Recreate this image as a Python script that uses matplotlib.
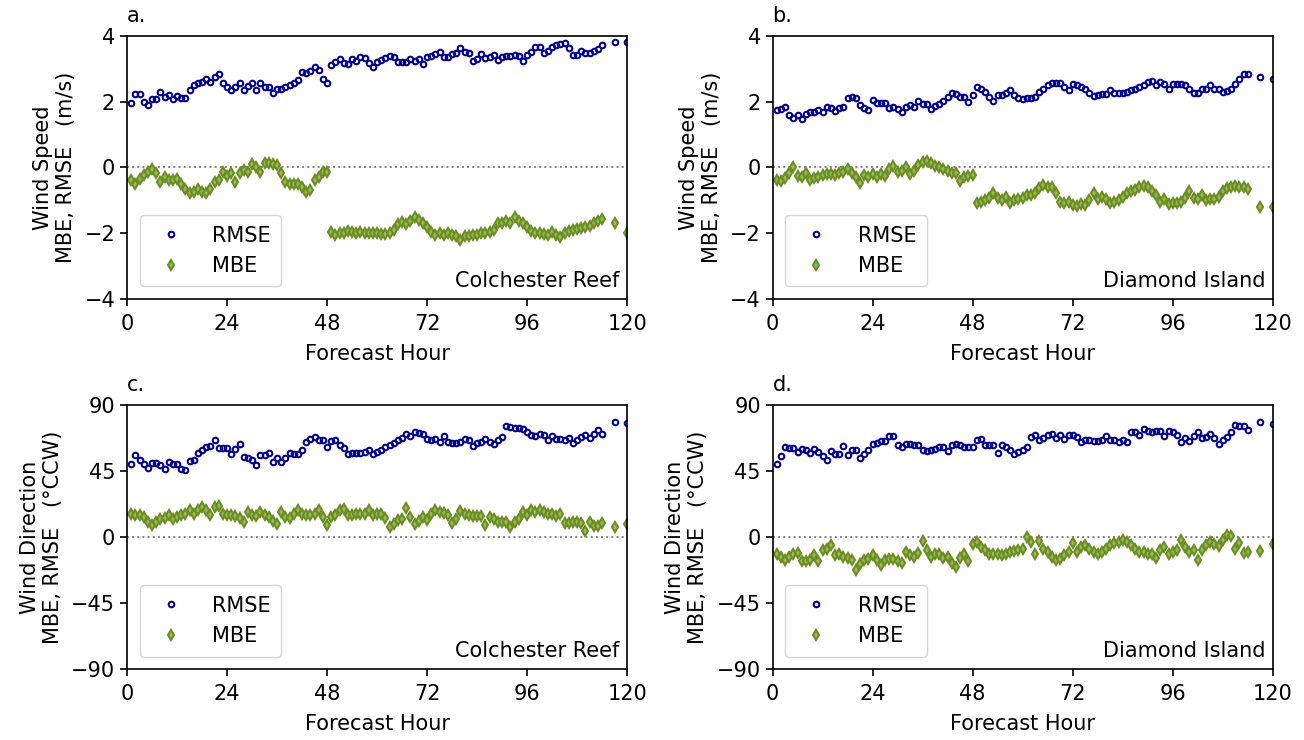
import numpy as np
import matplotlib.pyplot as plt

# forecast hours: hourly 1-114, then 3-hourly
hours = list(range(1, 115)) + [117, 120]

# wind speed (m/s)
rmse_a = [1.97, 2.23, 2.23, 2.0, 1.9, 2.07, 2.07, 2.3, 2.15, 2.2, 2.08, 2.17,
          2.1, 2.1, 2.35, 2.5, 2.56, 2.6, 2.68, 2.6, 2.76, 2.84, 2.58, 2.46,
          2.35, 2.44, 2.56, 2.35, 2.48, 2.56, 2.35, 2.56, 2.44, 2.44, 2.25, 2.38,
          2.38, 2.44, 2.5, 2.58, 2.66, 2.91, 2.86, 2.94, 3.05, 2.96, 2.68, 2.58,
          3.12, 3.22, 3.29, 3.17, 3.15, 3.29, 3.25, 3.37, 3.32, 3.17, 3.05, 3.2,
          3.27, 3.32, 3.39, 3.37, 3.22, 3.22, 3.22, 3.29, 3.25, 3.29, 3.15, 3.37,
          3.39, 3.45, 3.52, 3.37, 3.35, 3.45, 3.49, 3.62, 3.52, 3.47, 3.25, 3.29,
          3.45, 3.32, 3.37, 3.42, 3.27, 3.35, 3.39, 3.39, 3.42, 3.39, 3.25, 3.42,
          3.52, 3.65, 3.67, 3.49, 3.55, 3.67, 3.73, 3.76, 3.78, 3.62, 3.42, 3.42,
          3.55, 3.47, 3.49, 3.55, 3.59, 3.73, 3.83, 3.83]
mbe_a = [-0.37, -0.51, -0.34, -0.23, -0.13, -0.06, -0.16, -0.44, -0.28, -0.37, -0.39, -0.34,
         -0.51, -0.64, -0.79, -0.74, -0.64, -0.74, -0.79, -0.67, -0.44, -0.37, -0.13, -0.26,
         -0.18, -0.44, -0.18, -0.08, -0.13, 0.12, 0.02, -0.13, 0.14, 0.14, 0.12, 0.07,
         -0.18, -0.44, -0.49, -0.51, -0.49, -0.59, -0.74, -0.69, -0.39, -0.28, -0.13, -0.13,
         -1.95, -2.05, -1.98, -2.0, -1.93, -1.95, -2.0, -1.97, -2.0, -1.98, -2.0, -1.98,
         -2.03, -2.02, -1.98, -1.9, -1.72, -1.67, -1.72, -1.62, -1.5, -1.6, -1.68, -1.8,
         -1.95, -2.05, -1.98, -2.05, -2.0, -2.05, -2.1, -2.2, -2.1, -2.08, -2.05, -2.05,
         -2.0, -2.0, -1.95, -1.9, -1.7, -1.7, -1.62, -1.7, -1.52, -1.62, -1.7, -1.8,
         -1.93, -2.0, -2.0, -2.02, -2.05, -1.97, -2.05, -2.12, -2.0, -1.93, -1.9, -1.88,
         -1.85, -1.8, -1.78, -1.7, -1.62, -1.58, -1.68, -2.0]
rmse_b = [1.75, 1.77, 1.83, 1.59, 1.49, 1.59, 1.46, 1.64, 1.7, 1.7, 1.75, 1.7,
          1.83, 1.8, 1.73, 1.8, 1.83, 2.1, 2.13, 2.1, 1.9, 1.8, 1.75, 2.05,
          1.95, 1.95, 1.97, 1.8, 1.85, 1.77, 1.7, 1.83, 1.9, 1.83, 2.03, 1.93,
          1.93, 1.77, 1.87, 1.93, 2.03, 2.15, 2.27, 2.23, 2.15, 2.15, 2.0, 2.2,
          2.44, 2.38, 2.3, 2.15, 2.03, 2.2, 2.2, 2.25, 2.36, 2.2, 2.12, 2.08,
          2.1, 2.1, 2.15, 2.3, 2.4, 2.5, 2.57, 2.57, 2.57, 2.44, 2.36, 2.55,
          2.5, 2.46, 2.38, 2.27, 2.17, 2.2, 2.23, 2.23, 2.36, 2.25, 2.27, 2.25,
          2.3, 2.36, 2.4, 2.44, 2.5, 2.6, 2.64, 2.5, 2.6, 2.54, 2.38, 2.55,
          2.55, 2.54, 2.5, 2.4, 2.27, 2.27, 2.4, 2.4, 2.5, 2.38, 2.4, 2.3,
          2.33, 2.38, 2.54, 2.68, 2.84, 2.84, 2.74, 2.68]
mbe_b = [-0.38, -0.4, -0.33, -0.18, 0.0, -0.26, -0.28, -0.16, -0.38, -0.33, -0.28, -0.23,
         -0.2, -0.2, -0.23, -0.18, -0.13, -0.06, -0.18, -0.28, -0.46, -0.23, -0.28, -0.2,
         -0.28, -0.2, -0.26, -0.06, 0.03, -0.13, -0.1, 0.0, -0.2, -0.1, 0.08, 0.18,
         0.21, 0.15, 0.05, 0.0, -0.06, -0.1, -0.16, -0.18, -0.4, -0.3, -0.26, -0.23,
         -1.07, -1.04, -0.99, -0.94, -0.79, -0.94, -0.99, -0.89, -1.07, -0.99, -0.97, -0.94,
         -0.84, -0.84, -0.77, -0.63, -0.53, -0.6, -0.6, -0.79, -1.04, -1.07, -1.04, -1.14,
         -1.17, -1.11, -1.14, -0.99, -0.79, -0.97, -0.89, -0.97, -1.07, -1.04, -0.99, -0.89,
         -0.79, -0.73, -0.68, -0.6, -0.56, -0.6, -0.71, -0.84, -1.04, -0.97, -1.11, -1.07,
         -1.07, -1.04, -0.94, -0.73, -0.94, -0.97, -0.84, -0.99, -0.97, -0.97, -0.89, -0.73,
         -0.63, -0.6, -0.56, -0.58, -0.58, -0.66, -1.21, -1.21]

# wind direction (deg CCW)
rmse_c = [50, 55.7, 52.7, 50, 47.3, 50.5, 50.5, 48.9, 46.6, 51.1, 49.5, 49.5,
          46.6, 45.5, 51.8, 52.3, 57.3, 59.1, 61.4, 61.8, 65.9, 60.9, 60.9, 60.9,
          56.8, 60.2, 63.2, 54.5, 54.1, 52.3, 48.9, 55.7, 55.7, 57.3, 51.1, 54.1,
          51.1, 54.1, 57.3, 56.4, 56.4, 59.5, 64.8, 67, 68.2, 66.4, 65.9, 61.4,
          65.5, 65.9, 62.5, 60.9, 56.8, 57.3, 57.3, 57.3, 58, 59.1, 56.8, 58,
          59.5, 61.4, 62.5, 64.1, 66.4, 67.7, 70, 68.6, 71.6, 70.9, 70, 67,
          66.4, 67, 64.8, 68.6, 64.8, 64.1, 64.1, 64.8, 67, 66.4, 61.8, 64.1,
          64.8, 67, 64.8, 63.2, 66.4, 68.2, 75.5, 75, 74.5, 74.5, 73.9, 71.6,
          69.3, 68.6, 70, 69.3, 66.4, 68.6, 67, 67, 66.4, 67.7, 64.1, 66.4,
          68.2, 69.3, 67.7, 70.5, 73.2, 70.5, 78.4, 77.7]
mbe_c = [15.9, 14.8, 14.8, 13.6, 10.2, 8, 10.2, 12.5, 13.2, 14.8, 12.5, 13.6,
         14.8, 15.9, 18.2, 15.9, 18.2, 20.5, 18.2, 14.8, 20.5, 20.9, 15.9, 14.8,
         14.8, 14.1, 13.2, 10.2, 17, 14.8, 14.1, 17, 14.8, 13.6, 10.9, 9.1,
         17, 13.6, 13.2, 15.9, 18.2, 15.9, 14.8, 14.8, 15.9, 18.2, 13.6, 8,
         13.6, 14.8, 18.2, 19.3, 14.8, 14.8, 15.9, 15.9, 15.9, 18.2, 14.8, 15.9,
         15.5, 13.2, 6.8, 8.6, 11.4, 12.5, 20, 13.6, 9.1, 10.9, 13.6, 11.8,
         15.9, 18.2, 17, 16.4, 14.8, 9.5, 12.5, 17.7, 15.9, 14.8, 14.1, 14.1,
         14.1, 8, 13.6, 12.5, 10.2, 10.2, 10.2, 6.8, 10.2, 12.5, 17, 14.8,
         18.2, 17, 18.2, 17, 15.9, 15.9, 14.1, 15.9, 9.5, 9.5, 10.2, 10.2,
         9.5, 4.1, 10.2, 7.3, 7.3, 9.5, 6.8, 8.6]
rmse_d = [50, 55, 61.4, 60.9, 60.9, 58, 60.2, 59.5, 57.3, 60.2, 58, 55,
          52.3, 58.6, 56.4, 56.8, 61.8, 55.7, 59.1, 59.1, 54.1, 56.4, 59.1, 63.6,
          64.1, 65.5, 65.5, 68.6, 68.6, 62.5, 61.4, 63.2, 63.2, 62.5, 62.5, 59.5,
          58.6, 59.1, 60.2, 61.4, 61.4, 58.6, 62.5, 63.2, 62.5, 61.4, 61.4, 61.4,
          65.9, 67, 62.5, 62.5, 62.5, 57.3, 62.5, 61.4, 59.1, 56.8, 58, 59.5,
          61.4, 68.2, 69.3, 65.9, 67.7, 69.3, 70.5, 67.7, 69.3, 67, 69.3, 69.3,
          68.2, 64.8, 66.4, 66.4, 65.5, 65.5, 66.4, 68.6, 66.4, 65.9, 64.8, 65.9,
          64.8, 71.6, 71.6, 69.3, 73.9, 72.3, 71.6, 72.3, 72.3, 68.6, 72.3, 71.6,
          69.3, 64.8, 67.7, 65.5, 68.6, 71.6, 67.7, 68.2, 70.5, 67.7, 63.6, 66.4,
          68.2, 71.6, 76.1, 75.5, 75.5, 73.2, 78.4, 76.8]
mbe_d = [-11.4, -13.6, -15.9, -13.6, -11.4, -10.9, -16.4, -16.4, -15.5, -12.5, -16.4, -8.6,
         -8, -5.7, -12.5, -11.4, -13.6, -14.1, -15.5, -22.3, -18.2, -15.9, -14.8, -12.5,
         -15.5, -19.3, -15.5, -14.8, -14.8, -16.4, -17.7, -10.2, -12.5, -13.6, -10.9, -2.7,
         -8.6, -13.6, -11.4, -11.4, -14.1, -13.6, -17.7, -20.5, -14.1, -11.4, -16.4, -5,
         -3.4, -6.8, -9.1, -11.4, -11.4, -11.4, -12.5, -11.4, -10.2, -9.5, -8.6, -8,
         0, -3.4, -11.8, -2.7, -8, -10.2, -13.6, -15.9, -14.8, -12.5, -10.2, -4.1,
         -10.2, -6.8, -5.7, -8, -10.2, -11.4, -10.2, -8, -5.7, -4.1, -3.4, -1.8,
         -3.4, -5.7, -8, -10.2, -10.2, -11.4, -11.4, -14.1, -9.1, -6.8, -11.4, -10.2,
         -9.1, -2.3, -6.8, -10.2, -8.6, -15.5, -9.1, -5.7, -3.4, -4.5, -6.4, -2.3,
         1.1, 0.5, -8, -4.1, -10.9, -10.2, -9.5, -4.5]

fs = 15
fig = plt.figure(figsize=(13.04, 7.4), dpi=100)

def panel(pos, rmse, mbe, tag, station, ylab, ylim, yticks):
    ax = fig.add_axes(pos)
    ax.axhline(0, color='gray', ls=':', lw=1.4, zorder=1)
    ax.plot(hours, rmse, 'o', color='darkblue', mfc='none', ms=4, mew=1.5, label='RMSE')
    ax.plot(hours, mbe, 'd', color='olivedrab', mfc='#9ab95a', ms=5.2, mew=1.5, label='MBE')
    ax.set_xlim(0, 120)
    ax.set_ylim(*ylim)
    ax.set_xticks([0, 24, 48, 72, 96, 120])
    ax.set_yticks(yticks)
    ax.tick_params(labelsize=fs, length=5, width=1.2)
    ax.tick_params(axis='x', pad=6)
    for s in ax.spines.values():
        s.set_linewidth(1.2)
    ax.set_xlabel('Forecast Hour', fontsize=fs, labelpad=7)
    ax.set_ylabel(ylab, fontsize=fs, labelpad=6)
    ax.set_title(tag, loc='left', fontsize=fs, pad=10)
    ax.text(0.985, 0.03, station, transform=ax.transAxes, ha='right', va='bottom', fontsize=fs)
    ax.legend(loc='lower left', fontsize=fs, handletextpad=1.0, borderpad=0.5,
              labelspacing=0.5, borderaxespad=0.6)
    return ax

ws = 'Wind Speed\nMBE, RMSE   (m/s)'
wd = 'Wind Direction\nMBE, RMSE   (°CCW)'
panel([0.0974, 0.596, 0.3835, 0.3554], rmse_a, mbe_a, 'a.', 'Colchester Reef', ws, (-4, 4), [-4, -2, 0, 2, 4])
panel([0.5925, 0.596, 0.3835, 0.3554], rmse_b, mbe_b, 'b.', 'Diamond Island', ws, (-4, 4), [-4, -2, 0, 2, 4])
panel([0.0974, 0.0959, 0.3835, 0.3568], rmse_c, mbe_c, 'c.', 'Colchester Reef', wd, (-90, 90), [-90, -45, 0, 45, 90])
panel([0.5925, 0.0959, 0.3835, 0.3568], rmse_d, mbe_d, 'd.', 'Diamond Island', wd, (-90, 90), [-90, -45, 0, 45, 90])

plt.savefig('out.png', dpi=100)
